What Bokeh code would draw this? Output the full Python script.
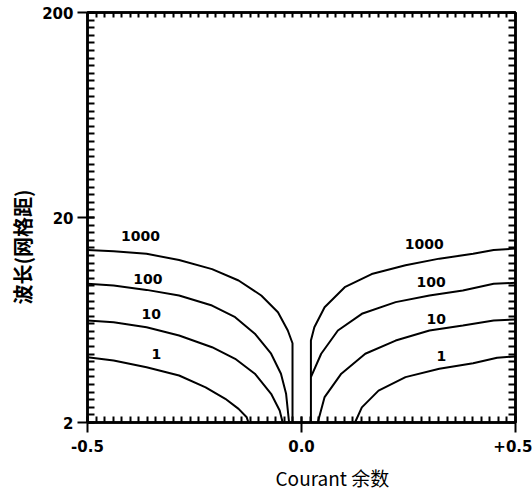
import numpy as np
from bokeh.plotting import figure
from bokeh.models import FixedTicker, LinearAxis, LogAxis, Title, ColumnDataSource
from bokeh.core.properties import value
from bokeh.embed import file_html
from bokeh.resources import INLINE

# ---- data ----
x_ticks = [-0.5, 0.0, 0.5]
x_tick_labels = ["-0.5", "0.0", "+0.5"]
y_ticks = [2, 20, 200]
y_tick_labels = ["2", "20", "200"]

levels = ["1000", "100", "10", "1"]

left_1000_x = [-0.5, -0.439, -0.362, -0.286, -0.209, -0.147, -0.094, -0.055, -0.032, -0.021, -0.021]
left_1000_y = [13.9, 13.7, 13.3, 12.4, 11.2, 9.86, 8.33, 6.9, 5.62, 4.87, 2.0]
left_100_x = [-0.5, -0.439, -0.362, -0.286, -0.209, -0.155, -0.109, -0.071, -0.048, -0.036, -0.029]
left_100_y = [9.5, 9.32, 8.87, 8.33, 7.44, 6.53, 5.42, 4.33, 3.46, 2.76, 2.0]
left_10_x = [-0.5, -0.439, -0.362, -0.286, -0.209, -0.155, -0.109, -0.071, -0.051, -0.044]
left_10_y = [6.29, 6.17, 5.83, 5.31, 4.66, 4.09, 3.46, 2.76, 2.29, 2.0]
left_1_x = [-0.5, -0.439, -0.362, -0.286, -0.224, -0.178, -0.147, -0.128, -0.124]
left_1_y = [4.16, 4.01, 3.72, 3.39, 2.97, 2.61, 2.33, 2.12, 2.0]

right_1000_x = [0.022, 0.022, 0.030, 0.054, 0.101, 0.164, 0.243, 0.322, 0.401, 0.449, 0.5]
right_1000_y = [2.0, 5.02, 5.83, 7.30, 9.14, 10.6, 11.7, 12.6, 13.3, 13.9, 14.1]
right_100_x = [0.022, 0.046, 0.085, 0.141, 0.220, 0.299, 0.377, 0.449, 0.5]
right_100_y = [3.33, 4.33, 5.62, 6.78, 7.73, 8.33, 8.81, 9.5, 9.6]
right_10_x = [0.038, 0.054, 0.093, 0.149, 0.220, 0.299, 0.377, 0.449, 0.5]
right_10_y = [2.0, 2.66, 3.46, 4.33, 5.02, 5.62, 5.95, 6.29, 6.36]
right_1_x = [0.125, 0.141, 0.180, 0.243, 0.322, 0.401, 0.457, 0.5]
right_1_y = [2.0, 2.37, 2.86, 3.33, 3.66, 3.89, 4.14, 4.20]

label_left_x = [-0.376, -0.359, -0.351, -0.339]
label_left_y = [16.3, 10.0, 6.78, 4.33]
label_right_x = [0.287, 0.303, 0.315, 0.327]
label_right_y = [14.9, 9.66, 6.41, 4.24]

x_title = "Courant 余数"
y_title = "波长(网格距)"

# ---- figure ----
p = figure(width=532, height=498, x_range=(-0.5, 0.5), y_range=(2, 200),
           y_axis_type="log", output_backend="svg", toolbar_location=None,
           min_border_left=87, min_border_right=17, min_border_top=12, min_border_bottom=76,
           background_fill_color="white", border_fill_color="white")
p.grid.visible = False
p.outline_line_color = "black"
p.outline_line_width = 2.5

x_minor = np.round(np.arange(-0.5, 0.5001, 0.02), 3).tolist()
y_minor = (2 * 10 ** (np.arange(0, 55) / 27.0)).tolist()

lab_font = "DejaVu Sans"

xa = p.xaxis[0]
xa.ticker = FixedTicker(ticks=x_ticks, minor_ticks=x_minor)
xa.major_label_overrides = {t: s for t, s in zip(x_ticks, x_tick_labels)}
xa.major_tick_in = 6
xa.major_tick_out = 10
xa.minor_tick_in = 6
xa.minor_tick_out = 0

ya = p.yaxis[0]
ya.ticker = FixedTicker(ticks=y_ticks, minor_ticks=y_minor)
ya.major_label_overrides = {t: s for t, s in zip(y_ticks, y_tick_labels)}
ya.major_tick_in = 7
ya.major_tick_out = 10
ya.minor_tick_in = 7
ya.minor_tick_out = 0

for ax in (xa, ya):
    ax.axis_line_width = 2.5
    ax.major_tick_line_width = 2
    ax.minor_tick_line_width = 2
    ax.major_label_text_font = lab_font
    ax.major_label_text_font_style = "bold"
    ax.major_label_text_font_size = "15px"
    ax.major_label_text_color = "black"
xa.major_label_standoff = 7
ya.major_label_standoff = 4

top = LinearAxis(ticker=FixedTicker(ticks=[], minor_ticks=x_minor),
                 minor_tick_in=5, minor_tick_out=0, minor_tick_line_width=2,
                 major_tick_in=0, major_tick_out=0,
                 axis_line_width=2.5, major_label_standoff=0)
p.add_layout(top, "above")
right = LogAxis(ticker=FixedTicker(ticks=[], minor_ticks=y_minor),
                minor_tick_in=7, minor_tick_out=0, minor_tick_line_width=2,
                major_tick_in=0, major_tick_out=0,
                axis_line_width=2.5, major_label_standoff=0)
p.add_layout(right, "right")

curves = [
    (left_1000_x, left_1000_y), (left_100_x, left_100_y),
    (left_10_x, left_10_y), (left_1_x, left_1_y),
    (right_1000_x, right_1000_y), (right_100_x, right_100_y),
    (right_10_x, right_10_y), (right_1_x, right_1_y),
]
for cx, cy in curves:
    p.line(cx, cy, line_color="black", line_width=2)

src = ColumnDataSource(dict(x=label_left_x + label_right_x,
                            y=label_left_y + label_right_y,
                            t=levels + levels))
p.text(x="x", y="y", text="t", source=src, text_align="center",
       text_baseline="middle", text_font=value(lab_font), text_font_style="bold",
       text_font_size="14px", text_color="black")

p.add_layout(Title(text=x_title, align="left", offset=188, standoff=14,
                   text_font="Noto Sans CJK SC", text_font_style="normal",
                   text_font_size="19px", text_color="black"), "below")
p.add_layout(Title(text=y_title, align="left", offset=118, standoff=5,
                   text_font="Noto Sans CJK SC", text_font_style="bold",
                   text_font_size="20px", text_color="black"), "left")

open("out.html", "w").write(file_html(p, INLINE))
